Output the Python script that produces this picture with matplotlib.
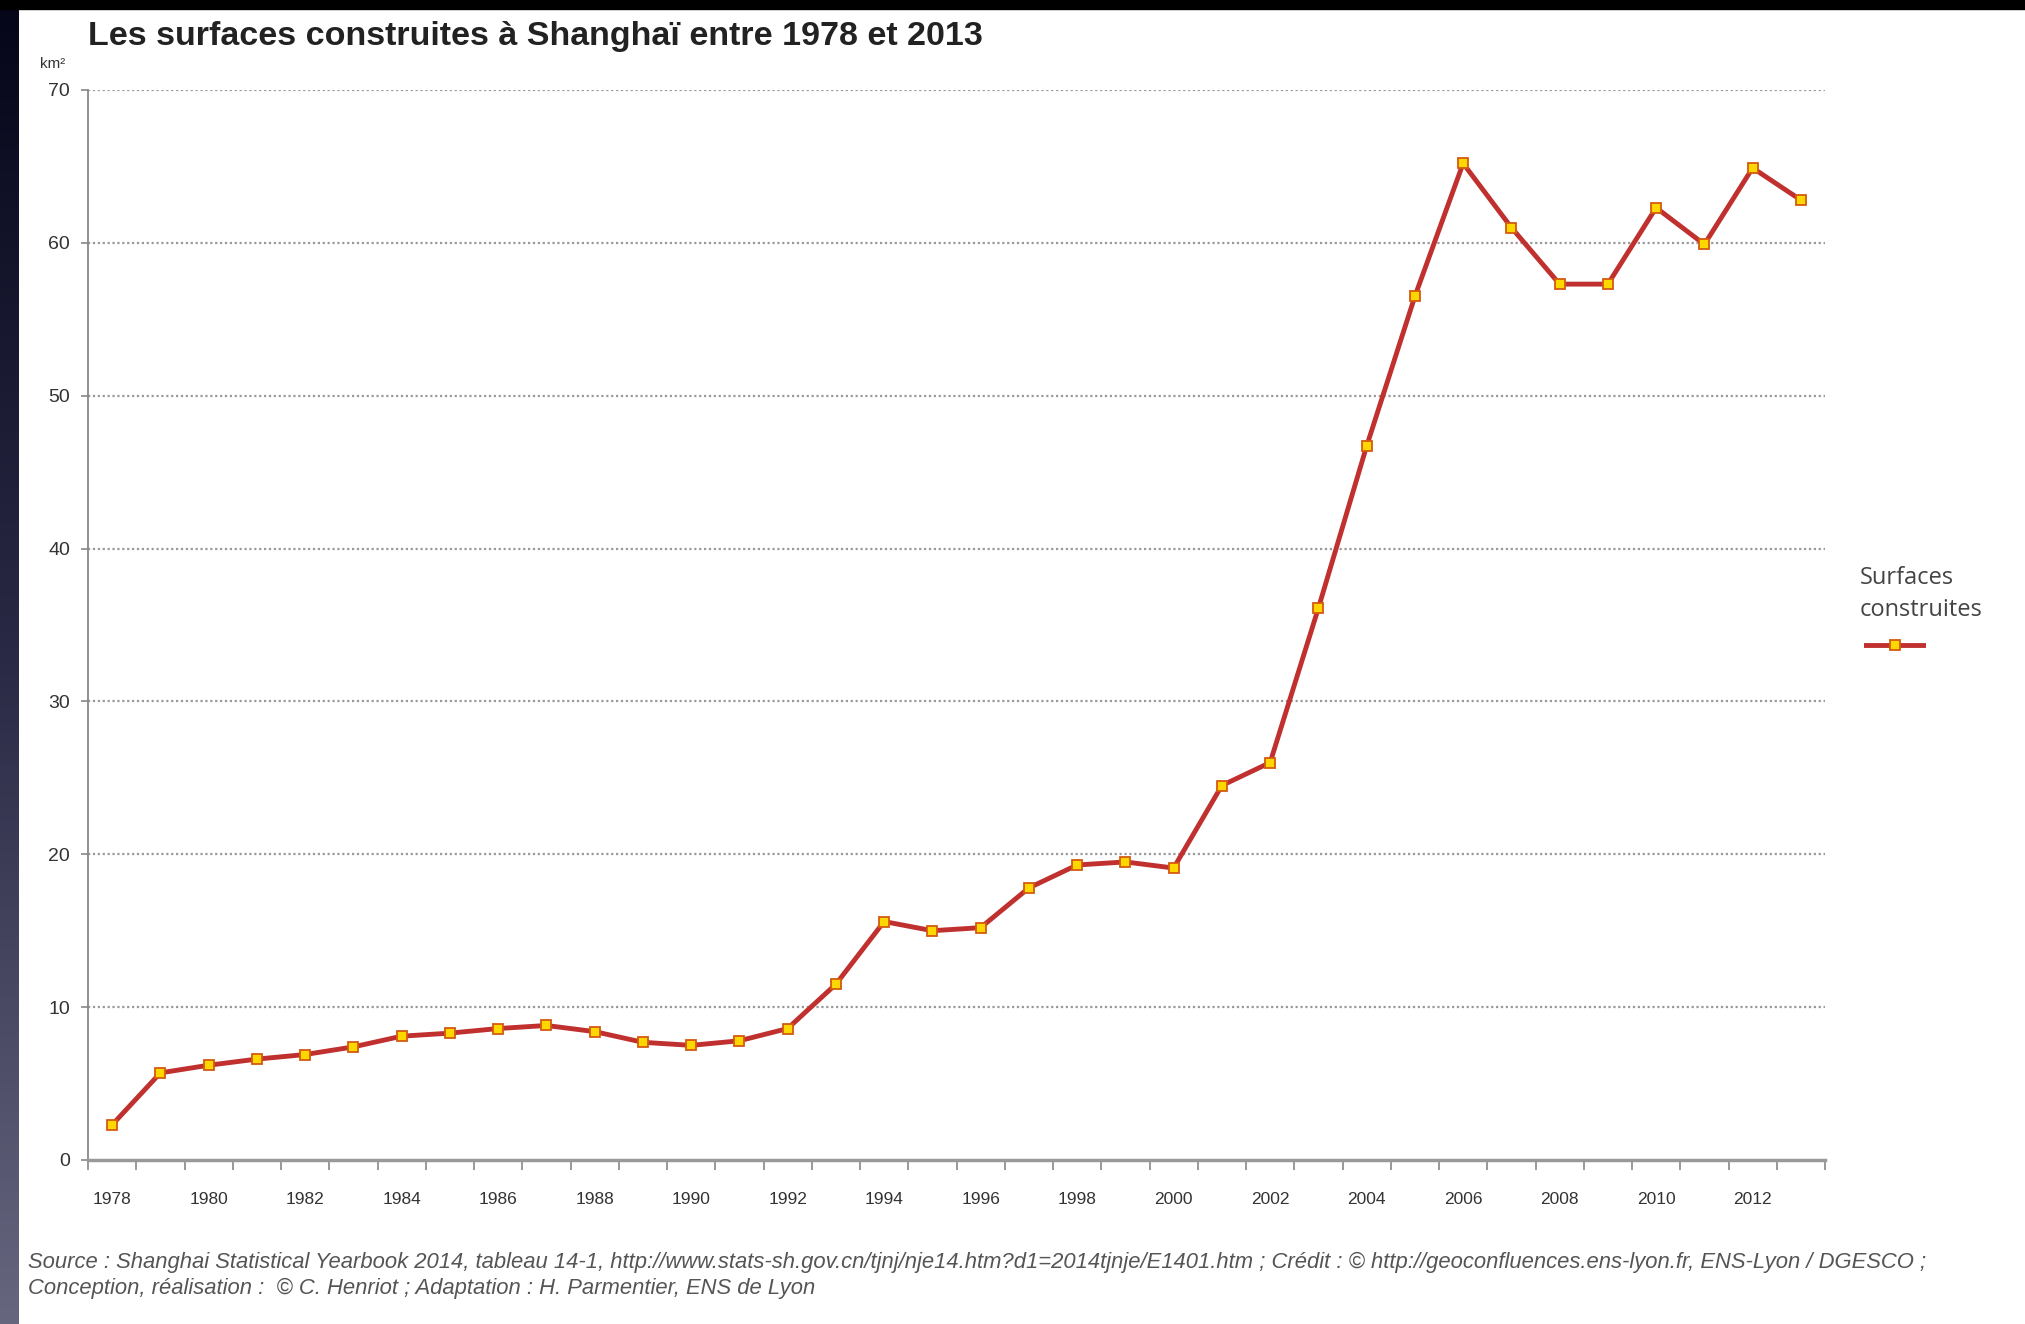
import matplotlib
matplotlib.use("Agg")
import matplotlib.pyplot as plt
import numpy as np
from matplotlib import font_manager
from matplotlib.patches import Rectangle

years = list(range(1978, 2014))
surfaces = [2.3, 5.7, 6.2, 6.6, 6.9, 7.4, 8.1, 8.3, 8.6, 8.8,
            8.4, 7.7, 7.5, 7.8, 8.6, 11.5, 15.6, 15.0, 15.2, 17.8,
            19.3, 19.5, 19.1, 24.5, 26.0, 36.1, 46.7, 56.5, 65.2, 61.0,
            57.3, 57.3, 62.3, 59.9, 64.9, 62.8]
y_ticks = [0, 10, 20, 30, 40, 50, 60, 70]
title = "Les surfaces construites à Shanghaï entre 1978 et 2013"
legend_label = "Surfaces\nconstruites"
source_lines = [
    "Source : Shanghai Statistical Yearbook 2014, tableau 14-1, "
    "http://www.stats-sh.gov.cn/tjnj/nje14.htm?d1=2014tjnje/E1401.htm ; "
    "Crédit : © http://geoconfluences.ens-lyon.fr, ENS-Lyon / DGESCO ;",
    "Conception, réalisation :  © C. Henriot ; Adaptation : H. Parmentier, ENS de Lyon",
]

# narrow font if there is one
names = {f.name for f in font_manager.fontManager.ttflist}
narrow = "Liberation Sans Narrow" if "Liberation Sans Narrow" in names else "Liberation Sans"

W, H = 2025, 1324
fig = plt.figure(figsize=(W / 100, H / 100), dpi=100)
fig.patch.set_facecolor("white")

# dark frame: top strip and left gradient
fig.patches.append(Rectangle((0, 1 - 9 / H), 1, 9 / H, transform=fig.transFigure,
                             color="black", zorder=0))
side = fig.add_axes([0, 0, 19 / W, 1 - 9 / H])
grad = np.linspace(0, 1, 256).reshape(-1, 1)
side.imshow(grad, aspect="auto", cmap=matplotlib.colors.LinearSegmentedColormap.from_list(
    "edge", ["#06061a", "#2a2a46", "#66667f"]))
side.axis("off")

ax = fig.add_axes([88 / W, 1 - 1160 / H, (1825 - 88) / W, (1160 - 90) / H])
x = np.arange(len(years))
ax.plot(x, surfaces, color="#c0302e", lw=3.5, zorder=3,
        marker="s", ms=6.5, mfc="#ffd700", mec="#d45a10", mew=1.3)

ax.set_xlim(-0.5, len(years) - 0.5)
ax.set_ylim(0, 70)
ax.set_yticks(y_ticks)
ax.set_yticklabels([str(v) for v in y_ticks], fontsize=14, color="#333333", family=narrow)
ax.tick_params(axis="y", length=5, width=1.2, color="#888888", pad=8)

ax.set_xticks(x[::2])
ax.set_xticklabels([str(y) for y in years[::2]], fontsize=12.5, color="#333333", family=narrow)
ax.set_xticks(np.arange(-0.5, len(years)), minor=True)
ax.tick_params(axis="x", which="major", length=0, pad=23)
ax.tick_params(axis="x", which="minor", length=7, width=1.2, color="#888888")

for v in y_ticks[1:]:
    ax.axhline(v, color="#9a9a9a", lw=1.6, ls=(0, (1, 1.2)), zorder=1)

for s in ["top", "right"]:
    ax.spines[s].set_visible(False)
ax.spines["left"].set_color("#888888")
ax.spines["left"].set_linewidth(1.3)
ax.spines["bottom"].set_color("#999999")
ax.spines["bottom"].set_linewidth(2.5)

fig.text(88 / W, 1 - 36 / H, title, fontsize=24.5, fontweight="bold", color="#222222",
         family=narrow, va="center", ha="left")
fig.text(40 / W, 1 - 64 / H, "km²", fontsize=11, color="#333333", family=narrow,
         va="center", ha="left")

# legend on the right
fig.text(1860 / W, 1 - 594 / H, legend_label, fontsize=17, color="#444444",
         family="Open Sans", va="center", ha="left", linespacing=1.45)
leg = fig.add_axes([1864 / W, 1 - 653 / H, 62 / W, 16 / H])
leg.plot([0, 1], [0.5, 0.5], color="#c0302e", lw=3.5)
leg.plot([0.5], [0.5], marker="s", ms=6.5, mfc="#ffd700", mec="#d45a10", mew=1.3)
leg.set_xlim(0, 1)
leg.set_ylim(0, 1)
leg.axis("off")

fig.text(28 / W, 1 - 1262 / H, source_lines[0], fontsize=15.8, style="italic",
         color="#555555", family=narrow, va="center", ha="left")
fig.text(28 / W, 1 - 1288 / H, source_lines[1], fontsize=15.8, style="italic",
         color="#555555", family=narrow, va="center", ha="left")

fig.savefig("out.png", dpi=100)
